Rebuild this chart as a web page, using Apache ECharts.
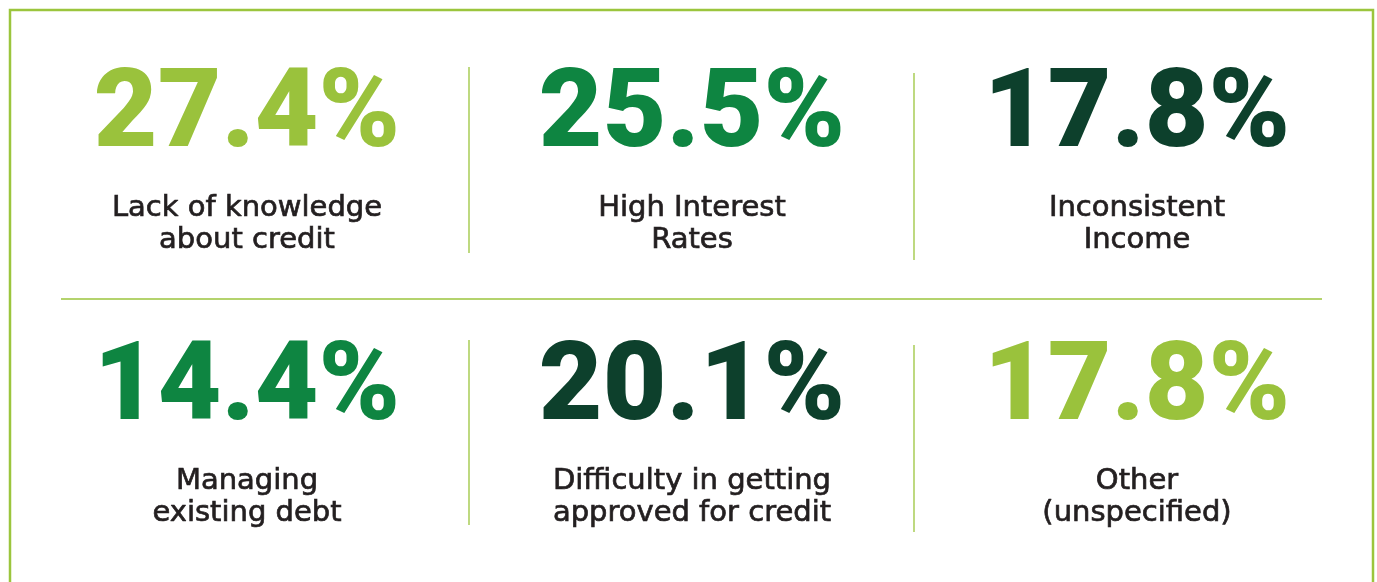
<!DOCTYPE html>
<html>
<head>
<meta charset="utf-8">
<script src="https://cdn.jsdelivr.net/npm/echarts@6/dist/echarts.min.js"></script>
<style>
  html, body { margin: 0; padding: 0; background: #fff; }
  #main { width: 1377px; height: 582px; }
</style>
</head>
<body>
<div id="main"></div>
<script>
// barriers to credit, share of respondents (%)
var reasons = [
    'Lack of knowledge\nabout credit',
    'High Interest\nRates',
    'Inconsistent\nIncome',
    'Managing\nexisting debt',
    'Difficulty in getting\napproved for credit',
    'Other\n(unspecified)'
];
var shares = [27.4, 25.5, 17.8, 14.4, 20.1, 17.8];
var columns = ['left', 'middle', 'right'];
var rows = [0, 0, 0, 1, 1, 1];
var shadeIdx = [0, 1, 2, 1, 2, 0];

var palette = ['#9ac23c', '#0e8541', '#0d402c'];
var lineGreen = '#9bc53d';

var cells = shares.map(function (v, i) {
    return {
        value: [columns[i % 3], rows[i], v],
        name: reasons[i],
        label: { color: palette[shadeIdx[i]] }
    };
});

var myChart = echarts.init(document.getElementById('main'));
myChart.setOption({
    animation: false,
    grid: { left: 24.5, width: 1335, top: 27, height: 492.3 },
    xAxis: { type: 'category', data: columns, show: false },
    yAxis: { type: 'value', min: -0.3, max: 1.5, inverse: true, show: false },
    graphic: [
        // outer frame, open at the bottom
        { type: 'polyline', shape: { points: [[10, 590], [10, 10], [1373, 10], [1373, 590]] },
          style: { stroke: lineGreen, lineWidth: 2.5, fill: null } },
        // dividers
        { type: 'line', shape: { x1: 61, y1: 299, x2: 1322, y2: 299 }, style: { stroke: lineGreen, lineWidth: 1.3 } },
        { type: 'line', shape: { x1: 469, y1: 67, x2: 469, y2: 253 }, style: { stroke: lineGreen, lineWidth: 1.3 } },
        { type: 'line', shape: { x1: 914, y1: 73, x2: 914, y2: 260 }, style: { stroke: lineGreen, lineWidth: 1.3 } },
        { type: 'line', shape: { x1: 469, y1: 340, x2: 469, y2: 525 }, style: { stroke: lineGreen, lineWidth: 1.3 } },
        { type: 'line', shape: { x1: 914, y1: 345, x2: 914, y2: 532 }, style: { stroke: lineGreen, lineWidth: 1.3 } }
    ],
    series: [
        {
            name: 'share',
            type: 'scatter',
            symbolSize: 0,
            itemStyle: { opacity: 1 },
            data: cells,
            label: {
                show: true,
                position: 'inside',
                offset: [0, 9],
                fontFamily: 'Roboto',
                fontWeight: 900,
                fontSize: 110,
                formatter: function (p) { return p.value[2].toFixed(1) + '%'; }
            }
        },
        {
            name: 'reason',
            type: 'scatter',
            symbolSize: 0,
            itemStyle: { opacity: 1 },
            data: cells.map(function (c) { return { value: c.value, name: c.name }; }),
            label: {
                show: true,
                position: 'inside',
                offset: [0, 115],
                fontFamily: 'DejaVu Sans',
                fontSize: 29,
                lineHeight: 32,
                color: '#231f20',
                textBorderColor: '#231f20',
                textBorderWidth: 0.7,
                formatter: '{b}'
            }
        }
    ]
});
</script>
</body>
</html>
